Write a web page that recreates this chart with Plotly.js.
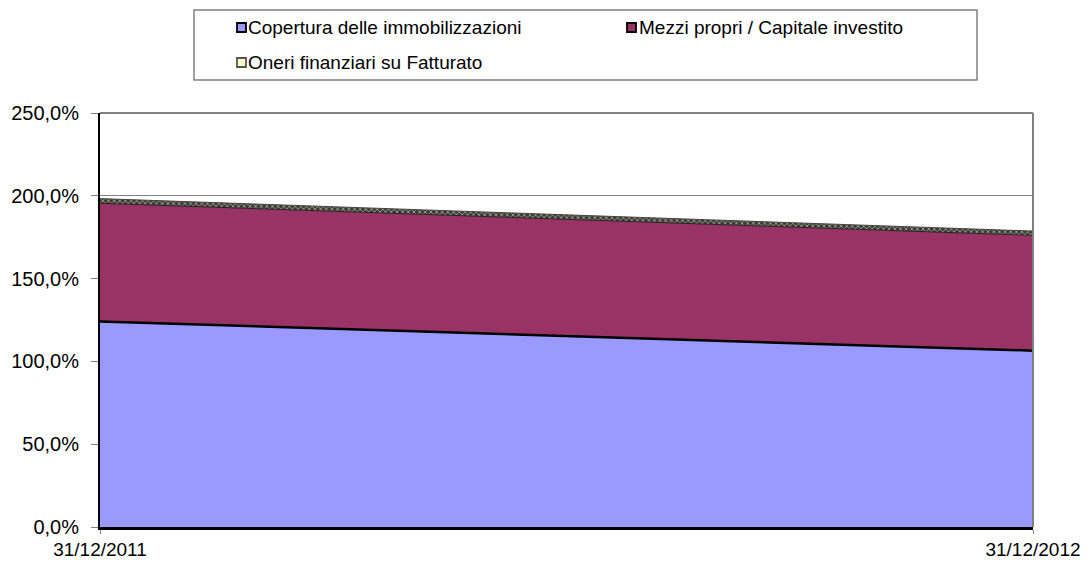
<!DOCTYPE html>
<html><head><meta charset="utf-8">
<script src="https://cdn.plot.ly/plotly-3.0.1.min.js"></script>
<style>html,body{margin:0;padding:0;background:#fff}#chart{width:1090px;height:566px}</style>
</head><body><div id="chart"></div>
<script>
const dates = ["31/12/2011", "31/12/2012"];
const xpos = [0, 1];
const seriesNames = ["Copertura delle immobilizzazioni", "Mezzi propri / Capitale investito", "Oneri finanziari su Fatturato"];
const seriesColors = ["#9999ff", "#993366", "#ffffcc"];
const copertura = [124.1, 106.5];
const mezzi = [71.4, 69.6];
const oneri = [2.8, 2.6];
const yTicks = [0, 50, 100, 150, 200, 250];
const yTickText = yTicks.map(v => v.toFixed(1).replace(".", ",") + "%");

const FAM = "Liberation Sans, Arial, sans-serif";
const tickFont = {family: FAM, size: 20, color: "#000"};
const xTickFont = {family: FAM, size: 19, color: "#000"};
const legFont = {family: FAM, size: 19, color: "#000"};

// plot area in pixels: x 100..1033, y 113..527
const L = 100, R = 1033, T = 113, B = 527;
const px = x => (x - L) / (R - L);
const py = y => (B - y) / (B - T);

const traces = [
  {x: xpos, y: copertura, name: seriesNames[0], type: "scatter", mode: "lines",
   stackgroup: "one", fillcolor: seriesColors[0], line: {color: "#000", width: 2.5}, hoverinfo: "skip"},
  {x: xpos, y: mezzi, name: seriesNames[1], type: "scatter", mode: "lines",
   stackgroup: "one", fillcolor: seriesColors[1], line: {color: "#222", width: 1}, hoverinfo: "skip"},
  {x: xpos, y: oneri, name: seriesNames[2], type: "scatter", mode: "lines",
   stackgroup: "one", fillcolor: seriesColors[2],
   fillpattern: {shape: "x", bgcolor: "#3a3a3a", fgcolor: "#eeeebb", size: 4, solidity: 0.25},
   line: {color: "#444", width: 1}, hoverinfo: "skip"}
];

// custom legend (squares + labels), positions in pixels
const legItems = [
  {sx0: 237, sy0: 23, tx: 247, ty: 28},
  {sx0: 627, sy0: 23, tx: 638, ty: 28},
  {sx0: 237, sy0: 58, tx: 247, ty: 63}
];
const shapes = [
  {type: "rect", xref: "paper", yref: "paper", x0: px(194), x1: px(977), y0: py(80), y1: py(10),
   line: {color: "#808080", width: 1.5}, fillcolor: "rgba(0,0,0,0)"},
  {type: "line", xref: "paper", yref: "paper", x0: 0, x1: 1, y0: 1, y1: 1, line: {color: "#808080", width: 2}},
  {type: "line", xref: "paper", yref: "paper", x0: 1, x1: 1, y0: 0, y1: 1, line: {color: "#808080", width: 2}}
];
const annotations = [];
legItems.forEach((it, i) => {
  shapes.push({type: "rect", xref: "paper", yref: "paper",
    x0: px(it.sx0), x1: px(it.sx0 + 9), y0: py(it.sy0 + 9), y1: py(it.sy0),
    fillcolor: seriesColors[i], line: {color: i === 2 ? "#555" : "#000", width: 1.8}});
  annotations.push({xref: "paper", yref: "paper", x: px(it.tx), y: py(it.ty), xanchor: "left", yanchor: "middle",
    text: seriesNames[i], showarrow: false, font: legFont, borderpad: 0});
});

const layout = {
  width: 1090, height: 566,
  margin: {l: L, r: 1090 - R, t: T, b: 566 - B},
  paper_bgcolor: "#fff", plot_bgcolor: "#fff",
  showlegend: false,
  xaxis: {range: [0, 1], tickvals: xpos, ticktext: dates, showgrid: false, zeroline: false,
          showline: true, linecolor: "#000", linewidth: 2.5, ticks: "outside", ticklen: 4, tickcolor: "#808080",
          tickfont: xTickFont, ticklabelstandoff: 0},
  yaxis: {range: [0, 250], tickvals: yTicks, ticktext: yTickText,
          showgrid: true, gridcolor: "#808080", gridwidth: 1, zeroline: false,
          showline: true, linecolor: "#000", linewidth: 2, mirror: false,
          ticks: "outside", ticklen: 7, tickcolor: "#808080", tickfont: tickFont, ticklabelstandoff: 8},
  shapes: shapes,
  annotations: annotations
};

Plotly.newPlot("chart", traces, layout, {displayModeBar: false, staticPlot: true});
</script></body></html>
